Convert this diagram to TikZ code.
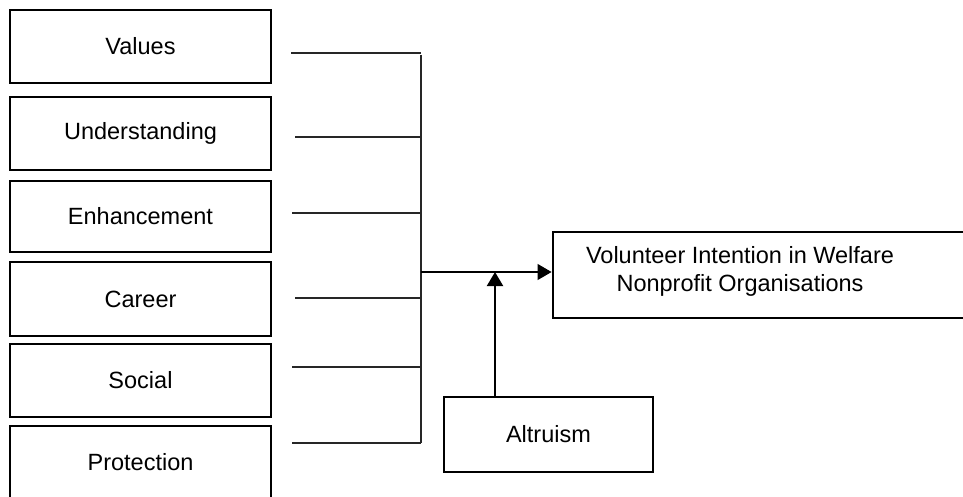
\documentclass[tikz,border=0pt]{standalone}
\usepackage{fontspec}
\setmainfont{Liberation Sans}
\usetikzlibrary{arrows.meta}
\begin{document}
\begin{tikzpicture}[x=1pt,y=-1pt,
  box/.style={draw=black, line width=2.9pt, rectangle, inner sep=0pt,
    font=\fontsize{23.5}{28}\selectfont},
  lbox/.style={box, minimum width=261pt},
  conn/.style={draw=black!85, line width=1.2pt},
  arr/.style={draw=black, -{Triangle[length=14pt,width=16pt]}},
  lbl/.style={font=\fontsize{23.5}{28}\selectfont, align=center, inner sep=0pt}]
\useasboundingbox (0,0) rectangle (963,497);
\clip (0,0) rectangle (963,497);
\fill[white] (0,0) rectangle (963,497);
% left boxes
\node[lbox, minimum height=73pt] (values) at (140.5,46.5) {Values};
\node[lbox, minimum height=73pt] (underst) at (140.5,133.5) {Understanding};
\node[lbox, minimum height=71pt] (enh) at (140.5,216.5) {Enhancement};
\node[lbox, minimum height=74pt] (career) at (140.5,299) {Career};
\node[lbox, minimum height=73pt] (social) at (140.5,380.5) {Social};
\node[lbox, minimum height=120pt] (protect) at (140.5,486) {};
\node[lbl] (protecttext) at (140.5,462) {Protection};
% target
\node[box, minimum width=447pt, minimum height=86pt] (target) at (776.5,275) {};
\node[lbl] (targettext) at (740,271) {Volunteer Intention in Welfare\\Nonprofit Organisations};
% altruism
\node[box, minimum width=209pt, minimum height=75pt] (altru) at (548.5,434.5) {Altruism};
% connector lines
\coordinate (v1) at (291,53);   \coordinate (v2) at (421,53);
\coordinate (u1) at (295,137);  \coordinate (u2) at (421,137);
\coordinate (e1) at (292,213);  \coordinate (e2) at (421,213);
\coordinate (c1) at (295,298);  \coordinate (c2) at (421,298);
\coordinate (s1) at (292,367);  \coordinate (s2) at (421,367);
\coordinate (p1) at (292,443);  \coordinate (p2) at (421,443);
\coordinate (top) at (421,55);
\coordinate (junc) at (421,272);
\coordinate (amid) at (495,272);
\draw[conn] (v1) -- (v2);
\draw[conn] (u1) -- (u2);
\draw[conn] (e1) -- (e2);
\draw[conn] (c1) -- (c2);
\draw[conn] (s1) -- (s2);
\draw[conn] (p1) -- (p2);
\draw[conn] (top) -- (p2);
\draw[arr, line width=1.2pt] (junc) -- (junc -| target.west);
\draw[arr, line width=2pt] (altru.north -| amid) -- (amid);
\end{tikzpicture}
\end{document}
